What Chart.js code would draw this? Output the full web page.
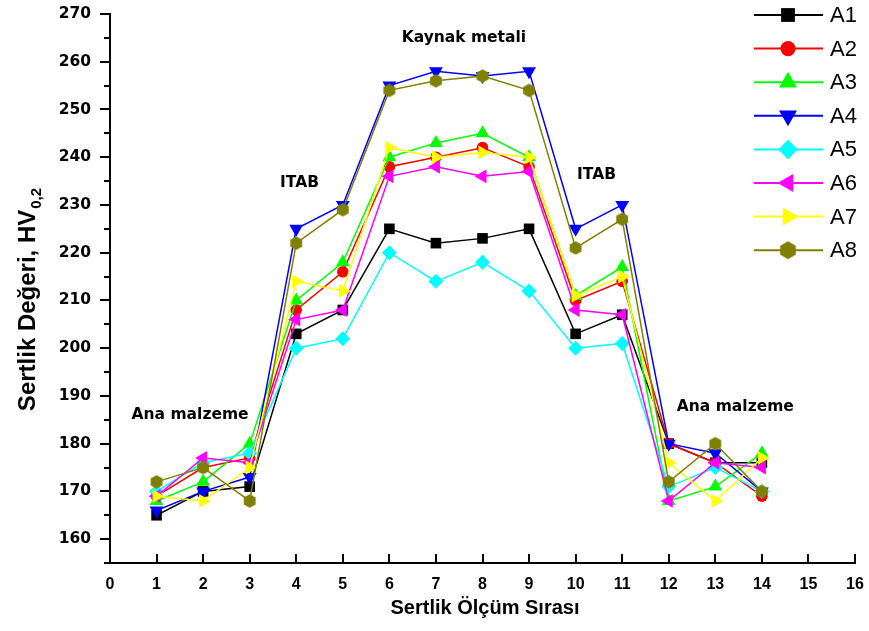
<!DOCTYPE html>
<html>
<head>
<meta charset="utf-8">
<script src="https://cdn.jsdelivr.net/npm/chart.js@4.4.1/dist/chart.umd.min.js"></script>
<style>
  html, body { margin: 0; padding: 0; background: #fff; }
  #wrap { width: 869px; height: 631px; }
</style>
</head>
<body>
<div id="wrap"><canvas id="c" width="869" height="631"></canvas></div>
<script>
// Measurement positions (Sertlik Ölçüm Sırası)
const positions = [1, 2, 3, 4, 5, 6, 7, 8, 9, 10, 11, 12, 13, 14];

// Hardness values HV0,2 per sample
const A1 = [165, 170, 171, 203, 208, 225, 222, 223, 225, 203, 207, 180, 176, 176];
const A2 = [169, 175, 177, 208, 216, 238, 240, 242, 238, 210, 214, 180, 176, 169];
const A3 = [168, 172, 180, 210, 218, 240, 243, 245, 240, 211, 217, 168, 171, 178];
const A4 = [166, 170, 173, 225, 230, 255, 258, 257, 258, 225, 230, 180, 178, 170];
const A5 = [170, 176, 178, 200, 202, 220, 214, 218, 212, 200, 201, 171, 175, 170];
const A6 = [169, 177, 176, 206, 208, 236, 238, 236, 237, 208, 207, 168, 176, 175];
const A7 = [169, 168, 175, 214, 212, 242, 240, 241, 240, 211, 215, 176, 168, 177];
const A8 = [172, 175, 168, 222, 229, 254, 256, 257, 254, 221, 227, 172, 180, 170];

const seriesNames = ['A1', 'A2', 'A3', 'A4', 'A5', 'A6', 'A7', 'A8'];
const seriesValues = [A1, A2, A3, A4, A5, A6, A7, A8];

// Axis tick values
const xTickValues = [0, 1, 2, 3, 4, 5, 6, 7, 8, 9, 10, 11, 12, 13, 14, 15, 16];
const yTickValues = [160, 170, 180, 190, 200, 210, 220, 230, 240, 250, 260, 270];

// Region labels
const regionLabels = ['Ana malzeme', 'ITAB', 'Kaynak metali', 'ITAB', 'Ana malzeme'];
const regionAnchors = [[1.72, 186], [4.07, 234.6], [7.6, 265], [10.45, 236.3], [13.43, 187.7]];

const FONT = '"Liberation Sans", Arial, Helvetica, sans-serif';
const WIDE = '"DejaVu Sans", "Liberation Sans", sans-serif';

// Hexagon marker for the last series
function hexagon(r, color) {
  const s = Math.ceil(r * 2 + 2);
  const cv = document.createElement('canvas');
  cv.width = s; cv.height = s;
  const g = cv.getContext('2d');
  g.fillStyle = color;
  g.beginPath();
  for (let k = 0; k < 6; k++) {
    const a = Math.PI / 2 + k * Math.PI / 3;
    const px = s / 2 + r * Math.cos(a), py = s / 2 + r * Math.sin(a);
    if (k === 0) g.moveTo(px, py); else g.lineTo(px, py);
  }
  g.closePath();
  g.fill();
  return cv;
}

const styles = [
  { color: '#000000', pointStyle: 'rect', rotation: 0, radius: 7.5 },
  { color: '#ff0000', pointStyle: 'circle', rotation: 0, radius: 5.8 },
  { color: '#00ff00', pointStyle: 'triangle', rotation: 0, radius: 8 },
  { color: '#0000ff', pointStyle: 'triangle', rotation: 180, radius: 8 },
  { color: '#00ffff', pointStyle: 'rectRot', rotation: 0, radius: 7.5 },
  { color: '#ff00ff', pointStyle: 'triangle', rotation: 270, radius: 8 },
  { color: '#ffff00', pointStyle: 'triangle', rotation: 90, radius: 8 },
  { color: '#808000', pointStyle: hexagon(6.8, '#808000'), rotation: 0, radius: 7 }
];
const legendHex = hexagon(9, '#808000');

const datasets = seriesNames.map((name, i) => ({
  label: name,
  data: positions.map((p, j) => ({ x: p, y: seriesValues[i][j] })),
  borderColor: styles[i].color,
  backgroundColor: styles[i].color,
  borderWidth: 1.5,
  pointStyle: styles[i].pointStyle,
  pointRotation: styles[i].rotation,
  pointRadius: styles[i].radius,
  pointHoverRadius: styles[i].radius,
  pointBorderWidth: 0,
  pointBackgroundColor: styles[i].color,
  pointBorderColor: styles[i].color,
  tension: 0,
  clip: false,
  order: seriesNames.length - 1 - i
}));

const decorations = {
  id: 'decorations',
  afterDraw(chart) {
    const ctx = chart.ctx;
    const xs = chart.scales.x, ys = chart.scales.y;
    const area = chart.chartArea;
    ctx.save();
    ctx.strokeStyle = '#000';
    ctx.lineWidth = 2;
    // x ticks, pointing into the plot
    ctx.beginPath();
    xTickValues.forEach(v => {
      const px = Math.round(xs.getPixelForValue(v));
      ctx.moveTo(px, area.bottom);
      ctx.lineTo(px, area.bottom - 9);
    });
    // y ticks, major and minor, pointing outward
    for (let v = ys.min; v <= ys.max; v += 5) {
      const py = Math.round(ys.getPixelForValue(v));
      const len = (v % 10 === 0) ? 10 : 6;
      ctx.moveTo(area.left, py);
      ctx.lineTo(area.left - len, py);
    }
    ctx.stroke();

    // y axis title with subscript
    ctx.fillStyle = '#000';
    ctx.translate(28, 300);
    ctx.rotate(-Math.PI / 2);
    ctx.textBaseline = 'middle';
    const main = 'Sertlik Değeri, HV';
    const sub = '0,2';
    ctx.font = 'bold 24px ' + FONT;
    const wMain = ctx.measureText(main).width;
    ctx.font = 'bold 15px ' + FONT;
    const wSub = ctx.measureText(sub).width;
    const startX = -(wMain + wSub) / 2;
    ctx.font = 'bold 24px ' + FONT;
    ctx.textAlign = 'left';
    ctx.fillText(main, startX, 0);
    ctx.font = 'bold 15px ' + FONT;
    ctx.fillText(sub, startX + wMain + 1, 9);
    ctx.setTransform(1, 0, 0, 1, 0, 0);

    // x axis title
    ctx.font = 'bold 20px ' + FONT;
    ctx.textAlign = 'center';
    ctx.textBaseline = 'middle';
    ctx.fillText('Sertlik Ölçüm Sırası', 485, 608);

    // region labels
    ctx.font = 'bold 15.5px ' + WIDE;
    regionLabels.forEach((t, k) => {
      const [vx, vy] = regionAnchors[k];
      ctx.fillText(t, xs.getPixelForValue(vx), ys.getPixelForValue(vy));
    });

    // legend
    const lx0 = 754, lx1 = 823, ly0 = 15, step = 33.6;
    chart.data.datasets.forEach((ds, k) => {
      const y = ly0 + k * step;
      ctx.strokeStyle = ds.borderColor;
      ctx.lineWidth = 2;
      ctx.beginPath();
      ctx.moveTo(lx0, y);
      ctx.lineTo(lx1, y);
      ctx.stroke();
      ctx.fillStyle = ds.pointBackgroundColor;
      const isHex = typeof ds.pointStyle !== 'string';
      Chart.helpers.drawPoint(ctx, {
        pointStyle: isHex ? legendHex : ds.pointStyle,
        rotation: ds.pointRotation,
        radius: ds.pointRadius * 1.3,
        borderWidth: 0
      }, 788, y);
      ctx.fillStyle = '#000';
      ctx.font = '22px ' + FONT;
      ctx.textAlign = 'left';
      ctx.textBaseline = 'middle';
      ctx.fillText(ds.label, 830, y + 1);
    });
    ctx.restore();
  }
};

new Chart(document.getElementById('c'), {
  type: 'line',
  data: { datasets },
  options: {
    responsive: false,
    animation: false,
    events: [],
    layout: { padding: { left: 0, right: 14, top: 14, bottom: 0 } },
    plugins: { legend: { display: false }, tooltip: { enabled: false } },
    scales: {
      x: {
        type: 'linear',
        min: 0, max: 16,
        afterFit(s) { s.height = 68; s.paddingLeft = 0; s.paddingRight = 0; },
        afterBuildTicks(s) { s.ticks = xTickValues.map(v => ({ value: v })); },
        grid: { display: false, drawTicks: false },
        border: { display: true, color: '#000', width: 2 },
        ticks: {
          autoSkip: false, maxRotation: 0, padding: 12, color: '#000',
          font: { family: FONT, size: 16, weight: 'bold' }
        }
      },
      y: {
        type: 'linear',
        min: 155, max: 270,
        afterFit(s) { s.width = 110; s.paddingTop = 0; s.paddingBottom = 0; },
        afterBuildTicks(s) { s.ticks = yTickValues.map(v => ({ value: v })); },
        grid: { display: false, drawTicks: true, tickLength: 10 },
        border: { display: true, color: '#000', width: 2 },
        ticks: {
          autoSkip: false, padding: 9, color: '#000',
          font: { family: WIDE, size: 15.5, weight: 'bold' }
        }
      }
    }
  },
  plugins: [decorations]
});
</script>
</body>
</html>
